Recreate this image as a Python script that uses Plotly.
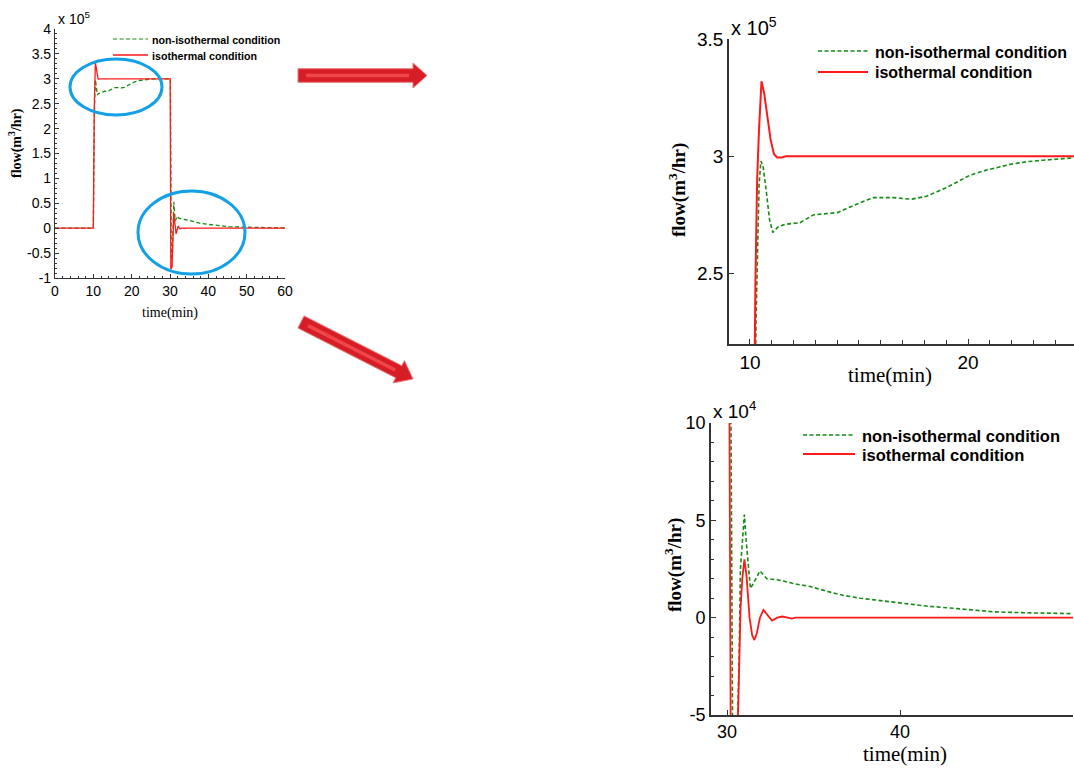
import plotly.graph_objects as go
import math

# ---------------- data (flow in m3/hr, time in min) ----------------
iso_time = [0, 10.0, 10.25, 10.33, 10.42, 10.53, 10.65, 10.8, 10.95, 11.1, 11.25, 11.45, 11.65,
            30.0, 30.05, 30.22, 30.55, 30.62, 30.7, 30.78, 30.88, 31.0, 31.12, 31.3, 31.45, 31.58,
            31.72, 31.9, 32.1, 32.3, 32.6, 32.9, 33.2, 33.5, 33.75, 33.95, 60.0]
iso_flow_e5 = [0, 0, 2.45, 2.9, 3.12, 3.32, 3.27, 3.17, 3.07, 3.01, 2.995, 2.995, 3.0,
               3.0, 3.0, -0.82, -0.78, -0.55, -0.2, 0.05, 0.2, 0.30, 0.22, 0.0, -0.09, -0.115,
               -0.08, 0.0, 0.04, 0.02, -0.015, 0.0, 0.006, 0.0, -0.005, 0.0, 0.0]

non_time = [0, 10.0, 10.28, 10.35, 10.42, 10.5, 10.6, 10.75, 10.9, 11.05, 11.3, 11.6, 12.3, 12.9,
            14.0, 15.0, 15.65, 16.6, 17.4, 18.1, 19.0, 20.1, 20.8, 21.95, 22.7, 23.4, 24.8, 26.5,
            28.0, 30.1, 30.25, 30.32, 30.6, 30.7, 30.77, 31.0, 31.1, 31.2, 31.35, 31.55, 31.9,
            32.3, 32.9, 33.85, 34.8, 35.8, 36.7, 37.7, 39.6, 41.5, 43.5, 45.4, 47.3, 50.0, 55.0, 60.0]
non_flow_e5 = [0, 0, 2.3, 2.65, 2.88, 2.98, 2.96, 2.85, 2.73, 2.675, 2.70, 2.71, 2.717, 2.75,
               2.76, 2.80, 2.824, 2.824, 2.817, 2.83, 2.866, 2.92, 2.94, 2.966, 2.977, 2.983, 2.993, 2.998,
               3.0, 3.0, 0.6, -0.6, -0.55, -0.2, 0.25, 0.53, 0.40, 0.30, 0.15, 0.18, 0.24,
               0.20, 0.195, 0.175, 0.16, 0.135, 0.115, 0.10, 0.08, 0.06, 0.045, 0.03, 0.025, 0.025, 0.012, 0.005]

iso_flow = [v * 1e5 for v in iso_flow_e5]
non_flow = [v * 1e5 for v in non_flow_e5]

series_names = ["non-isothermal condition", "isothermal condition"]

main_yticks = [-1, -0.5, 0, 0.5, 1, 1.5, 2, 2.5, 3, 3.5, 4]
main_ytick_labels = ["-1", "-0.5", "0", "0.5", "1", "1.5", "2", "2.5", "3", "3.5", "4"]
main_xticks = [0, 10, 20, 30, 40, 50, 60]
tr_yticks = [2.5, 3, 3.5]
tr_ytick_labels = ["2.5", "3", "3.5"]
tr_xticks = [10, 20]
br_yticks = [-5, 0, 5, 10]
br_ytick_labels = ["-5", "0", "5", "10"]
br_xticks = [30, 40]

# ---------------- layout helpers ----------------
W, H = 1074, 770
def px(x): return x / W
def py(y): return 1 - y / H

RED = "rgb(255,25,25)"
GREEN = "rgb(20,140,20)"
AXC = "#333333"
SANS = "Liberation Sans, Arial, sans-serif"
SERIF = "Liberation Serif, Times New Roman, serif"

fig = go.Figure()

panels = [("x", "y"), ("x2", "y2"), ("x3", "y3")]
widths = [(1.3, 1.3), (2.0, 1.6), (1.8, 1.6)]
for (xa, ya), (wr, wg) in zip(panels, widths):
    fig.add_trace(go.Scatter(x=non_time, y=non_flow, mode="lines", name=series_names[0],
                             line=dict(color=GREEN, width=wg, dash="4px,2.5px"),
                             xaxis=xa, yaxis=ya, showlegend=False))
    fig.add_trace(go.Scatter(x=iso_time, y=iso_flow, mode="lines", name=series_names[1],
                             line=dict(color=RED, width=wr),
                             xaxis=xa, yaxis=ya, showlegend=False))

common = dict(showgrid=False, zeroline=False, showline=True, linecolor=AXC, ticks="inside",
              tickcolor=AXC, mirror=False, automargin=False)

fig.update_layout(
    template="none",
    width=W, height=H, margin=dict(l=0, r=0, t=0, b=0, pad=0, autoexpand=False),
    paper_bgcolor="white", plot_bgcolor="white", showlegend=False,
    xaxis=dict(domain=[px(55), px(285)], range=[0, 60], tickvals=main_xticks, anchor="y",
               linewidth=1.2, ticklen=4, tickfont=dict(family=SANS, size=14, color="black"),
               minor=dict(ticks="inside", dtick=2, ticklen=2, tickcolor=AXC, showgrid=False), **common),
    yaxis=dict(domain=[py(278), py(29)], range=[-1e5, 4e5],
               tickvals=[v * 1e5 for v in main_yticks], ticktext=main_ytick_labels, anchor="x",
               linewidth=1.2, ticklen=4, tickfont=dict(family=SANS, size=14, color="black"),
               minor=dict(ticks="inside", dtick=1e4, ticklen=2, tickcolor=AXC, showgrid=False), **common),
    xaxis2=dict(domain=[px(729), 1.0], range=[9.04, 24.86], tickvals=tr_xticks, anchor="y2",
                linewidth=1.6, ticklen=5, tickfont=dict(family=SANS, size=19, color="black"),
                minor=dict(ticks="inside", dtick=1, ticklen=4, tickcolor=AXC, showgrid=False), **common),
    yaxis2=dict(domain=[py(344), py(39)], range=[2.2e5, 3.5e5],
                tickvals=[v * 1e5 for v in tr_yticks], ticktext=tr_ytick_labels, anchor="x2",
                linewidth=1.6, ticklen=5, tickfont=dict(family=SANS, size=19, color="black"), **common),
    xaxis3=dict(domain=[px(711), px(1073)], range=[29.07, 50], tickvals=br_xticks, anchor="y3",
                linewidth=1.6, ticklen=5, tickfont=dict(family=SANS, size=18, color="black"), **common),
    yaxis3=dict(domain=[py(715), py(423)], range=[-5e4, 10e4],
                tickvals=[v * 1e4 for v in br_yticks], ticktext=br_ytick_labels, anchor="x3",
                linewidth=1.6, ticklen=5, tickfont=dict(family=SANS, size=18, color="black"),
                minor=dict(ticks="inside", dtick=1e4, ticklen=3, tickcolor=AXC, showgrid=False), **common),
)

ann = []
def text(x, y, t, size, family=SANS, weight="normal", xanchor="left", angle=0):
    ann.append(dict(x=px(x), y=py(y), xref="paper", yref="paper", text=t, showarrow=False,
                    xanchor=xanchor, yanchor="middle", textangle=angle,
                    font=dict(family=family, size=size, color="black", weight=weight)))

# exponent labels
text(56, 18, "x 10<sup>5</sup>", 14)
text(729, 26, "x 10<sup>5</sup>", 20)
text(711, 410, "x 10<sup>4</sup>", 19)

# axis titles
text(15, 143, "flow(m<sup>3</sup>/hr)", 14, SERIF, "bold", "center", -90)
text(170, 313, "time(min)", 14, SERIF, "normal", "center")
text(678, 190, "flow(m<sup>3</sup>/hr)", 19, SERIF, "bold", "center", -90)
text(890, 375, "time(min)", 21, SERIF, "normal", "center")
text(673, 565, "flow(m<sup>3</sup>/hr)", 19, SERIF, "bold", "center", -90)
text(905, 754, "time(min)", 21, SERIF, "normal", "center")

shapes = []
# legends (drawn manually)
def legend(x0, x1, tx, yg, yr, size, wg, wr):
    shapes.append(dict(type="line", xref="paper", yref="paper", x0=px(x0), x1=px(x1), y0=py(yg), y1=py(yg),
                       line=dict(color=GREEN, width=wg, dash="4px,2.5px")))
    shapes.append(dict(type="line", xref="paper", yref="paper", x0=px(x0), x1=px(x1), y0=py(yr), y1=py(yr),
                       line=dict(color=RED, width=wr)))
    text(tx, yg + 1, series_names[0], size, SANS, "bold")
    text(tx, yr + 1, series_names[1], size, SANS, "bold")

legend(113, 148, 150, 39, 55, 10.7, 1.2, 1.3)
legend(818, 868, 873, 51, 72, 16, 1.5, 2.0)
legend(803, 855, 860, 435, 454, 16.5, 1.5, 1.8)

# highlight ellipses on the overview plot
for (x0, y0, x1, y1) in [(70, 59, 162, 115), (138, 191, 245, 274)]:
    shapes.append(dict(type="circle", xref="paper", yref="paper", x0=px(x0), x1=px(x1),
                       y0=py(y1), y1=py(y0), line=dict(color="rgb(20,160,230)", width=3)))

# block arrows
def arrow(sx, sy, ex, ey, bw, hw, hl):
    L = math.hypot(ex - sx, ey - sy)
    ux, uy = (ex - sx) / L, (ey - sy) / L
    nx, ny = -uy, ux
    bx, by = ex - ux * hl, ey - uy * hl
    pts = [(sx + nx * bw, sy + ny * bw), (bx + nx * bw, by + ny * bw), (bx + nx * hw, by + ny * hw),
           (ex, ey), (bx - nx * hw, by - ny * hw), (bx - nx * bw, by - ny * bw), (sx - nx * bw, sy - ny * bw)]
    path = "M " + " L ".join(f"{px(a):.5f},{py(b):.5f}" for a, b in pts) + " Z"
    shapes.append(dict(type="path", xref="paper", yref="paper", path=path,
                       fillcolor="rgb(215,30,38)", line=dict(color="rgb(235,120,120)", width=1)))
    # lighter highlight stripe to mimic the gradient
    s2 = [(sx + nx * bw * 0.25 + ux * 8, sy + ny * bw * 0.25 + uy * 8),
          (bx + nx * bw * 0.25 - ux * 4, by + ny * bw * 0.25 - uy * 4),
          (bx - nx * bw * 0.25 - ux * 4, by - ny * bw * 0.25 - uy * 4),
          (sx - nx * bw * 0.25 + ux * 8, sy - ny * bw * 0.25 + uy * 8)]
    path2 = "M " + " L ".join(f"{px(a):.5f},{py(b):.5f}" for a, b in s2) + " Z"
    shapes.append(dict(type="path", xref="paper", yref="paper", path=path2,
                       fillcolor="rgba(245,80,85,0.8)", line=dict(width=0)))

arrow(298, 75.5, 427, 75.5, 6.8, 12.5, 14)
arrow(301, 322, 413, 379, 6.8, 12.5, 16)

fig.update_layout(annotations=ann, shapes=shapes)
fig.write_html("out.html")
